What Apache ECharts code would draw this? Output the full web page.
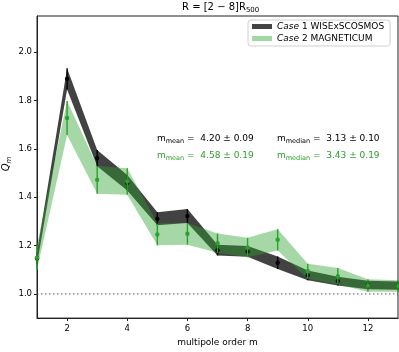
<!DOCTYPE html>
<html><head><meta charset="utf-8">
<script src="https://cdn.jsdelivr.net/npm/echarts@6/dist/echarts.min.js"></script>
<style>html,body{margin:0;padding:0;background:#fff}#c{width:399px;height:352px}</style>
</head><body><div id="c"></div>
<script>
const orders = [1,2,3,4,5,6,7,8,9,10,11,12,13];
const case1Values = [1.147,1.89,1.562,1.46,1.311,1.322,1.181,1.176,1.129,1.077,1.053,1.037,1.034];
const case1Errors = [0.025,0.044,0.034,0.032,0.027,0.029,0.022,0.022,0.026,0.02,0.018,0.018,0.017];
const case2Values = [1.15,1.728,1.472,1.465,1.246,1.249,1.21,1.192,1.224,1.094,1.073,1.035,1.033];
const case2Errors = [0.05,0.07,0.057,0.055,0.045,0.045,0.04,0.04,0.044,0.031,0.034,0.026,0.024];
const xTicks = [2,4,6,8,10,12];
const yTicks = [1.0,1.2,1.4,1.6,1.8,2.0];
const seriesNames = ['Case 1 WISExSCOSMOS','Case 2 MAGNETICUM'];
const case1Mean = '4.20 ± 0.09', case1Median = '3.13 ± 0.10';
const case2Mean = '4.58 ± 0.19', case2Median = '3.43 ± 0.19';

const BLACK_BAND = 'rgba(0,0,0,0.74)';
const GREEN_BAND = 'rgba(44,160,44,0.42)';
const GREEN = '#2ca02c';
const FONT = 'DejaVu Sans';

function band(name, vals, errs, color, z){
  return {
    type:'custom', name, z, silent:true,
    itemStyle:{color},
    data: orders.map((m,i)=>[m, vals[i]-errs[i], vals[i]+errs[i]]),
    encode:{x:0, y:[1,2]},
    renderItem(params, api){
      if (params.dataIndex !== 0) return null;
      const up = orders.map((m,i)=>api.coord([m, vals[i]+errs[i]]));
      const lo = orders.map((m,i)=>api.coord([m, vals[i]-errs[i]])).reverse();
      return {type:'polygon', shape:{points: up.concat(lo)}, style:{fill: color}};
    }
  };
}
function errbars(vals, errs, color, z){
  return {
    type:'custom', z, silent:true,
    data: orders.map((m,i)=>[m, vals[i], errs[i]]),
    encode:{x:0, y:1},
    renderItem(params, api){
      const m=api.value(0), v=api.value(1), e=api.value(2);
      const t=api.coord([m,v+e]), b=api.coord([m,v-e]), c=api.coord([m,v]);
      return {type:'group', children:[
        {type:'line', shape:{x1:t[0],y1:t[1],x2:b[0],y2:b[1]}, style:{stroke:color, lineWidth:1.4}},
        {type:'circle', shape:{cx:c[0],cy:c[1],r:2.2}, style:{fill:color}}
      ]};
    }
  };
}
function annot(x, y, sub, val, color){
  return {type:'text', left:x, top:y, z:100, style:{
    text:'{m|m}{s|'+sub+'}{m| =  '+val+'}',
    rich:{
      m:{fontFamily:FONT, fontSize:9, fill:color, color:color, lineHeight:14, verticalAlign:'middle'},
      s:{fontFamily:FONT, fontSize:6.5, fill:color, color:color, lineHeight:14, verticalAlign:'bottom', padding:[0,0,1,0]}
    }
  }};
}

const chart = echarts.init(document.getElementById('c'));
chart.setOption({
  animation:false,
  textStyle:{fontFamily:FONT},
  title:{
    text:'{n|R = [2 − 8]R}{s|500}', left:177, top:-2, padding:[2,5,2,5],
    textStyle:{fontWeight:'normal', rich:{
      n:{fontFamily:FONT, fontSize:10, fontWeight:'normal', color:'#000', lineHeight:14, verticalAlign:'middle'},
      s:{fontFamily:FONT, fontSize:7, fontWeight:'normal', color:'#000', lineHeight:14, verticalAlign:'bottom'}
    }}
  },
  legend:{
    left:248, top:20, orient:'vertical', icon:'rect', itemWidth:20, itemHeight:5, itemGap:3,
    padding:[2,6,3,4], borderColor:'#d0d0d0', borderWidth:1, borderRadius:3, backgroundColor:'rgba(255,255,255,0.85)',
    data:[
      {name:seriesNames[0], itemStyle:{color:'#444444'}},
      {name:seriesNames[1], itemStyle:{color:'#a3d7a3'}}
    ],
    formatter: n => '{i|Case}{t|' + n.replace(/^Case/, '') + '}',
    textStyle:{rich:{
      i:{fontFamily:FONT, fontSize:9, fontStyle:'italic', color:'#000', lineHeight:11},
      t:{fontFamily:FONT, fontSize:9, color:'#000', lineHeight:11}
    }}
  },
  grid:{left:37, right:1, top:16, bottom:29, show:true, borderColor:'#222', borderWidth:1, backgroundColor:'transparent'},
  xAxis:{
    type:'value', min:1, max:13,
    name:'multipole order m', nameLocation:'middle', nameGap:19,
    nameTextStyle:{fontFamily:FONT, fontSize:9, color:'#000'},
    axisLine:{lineStyle:{color:'#222', width:1}},
    axisTick:{show:true, length:3, lineStyle:{color:'#222'}, customValues:xTicks},
    axisLabel:{fontFamily:FONT, fontSize:8.5, color:'#000', margin:6, customValues:xTicks},
    splitLine:{show:false}
  },
  yAxis:{
    type:'value', min:0.9, max:2.15,
    axisLine:{show:true, lineStyle:{color:'#222', width:1}},
    axisTick:{show:true, length:3, lineStyle:{color:'#222'}, customValues:yTicks},
    axisLabel:{fontFamily:FONT, fontSize:8.5, color:'#000', margin:5, customValues:yTicks, formatter:v=>v.toFixed(1)},
    splitLine:{show:false}
  },
  graphic:[
    {type:'text', x:6, y:164, rotation:Math.PI/2, z:100, style:{
      text:'{q|Q̄}{s|m}', align:'center', verticalAlign:'middle',
      rich:{
        q:{fontFamily:FONT, fontSize:10, fontStyle:'italic', fill:'#000', lineHeight:14, verticalAlign:'middle'},
        s:{fontFamily:FONT, fontSize:7, fontStyle:'italic', fill:'#000', lineHeight:14, verticalAlign:'bottom'}
      }}},
    annot(157, 134, 'mean', case1Mean, '#000'),
    annot(277, 134, 'median', case1Median, '#000'),
    annot(157, 151, 'mean', case2Mean, GREEN),
    annot(277, 151, 'median', case2Median, GREEN)
  ],
  series:[
    band(seriesNames[0], case1Values, case1Errors, BLACK_BAND, 1),
    band(seriesNames[1], case2Values, case2Errors, GREEN_BAND, 2),
    errbars(case1Values, case1Errors, '#000', 3),
    errbars(case2Values, case2Errors, GREEN, 4),
    {type:'line', silent:true, z:5, symbol:'none', data:[[1,1],[13,1]],
     lineStyle:{color:'#555', width:1, type:[1.5,2.5]}}
  ]
});
</script></body></html>
